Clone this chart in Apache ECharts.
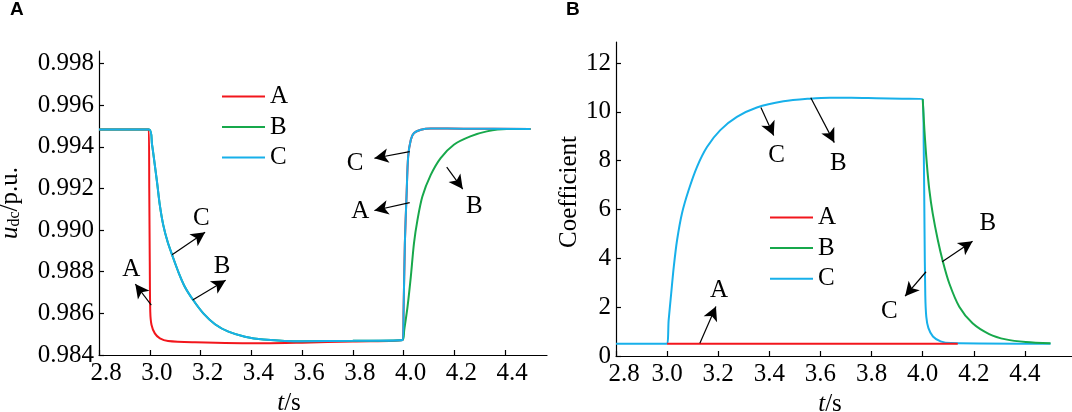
<!DOCTYPE html>
<html><head><meta charset="utf-8">
<script src="https://cdn.jsdelivr.net/npm/echarts@6/dist/echarts.min.js"></script>
<style>html,body{margin:0;padding:0;background:#fff}#c{width:1072px;height:412px}</style>
</head><body><div id="c"></div>
<script>
// ---------- data ----------
const seriesNames = ['A', 'B', 'C'];
const xTicks = [2.8, 3.0, 3.2, 3.4, 3.6, 3.8, 4.0, 4.2, 4.4];
const udcTicks = [0.984, 0.986, 0.988, 0.990, 0.992, 0.994, 0.996, 0.998];
const coefTicks = [0, 2, 4, 6, 8, 10, 12];

// Panel A: u_dc (p.u.) vs t (s)
const udcA = [[2.8,0.99483],[2.996,0.99483],[2.998,0.9920],[3.000,0.9885],[3.002,0.98608],[3.007,0.98544],[3.020,0.98504],[3.040,0.98480],[3.072,0.98467],[3.178,0.98461],[3.450,0.98456],[3.600,0.98459],[3.800,0.98465],[3.996,0.98472],[4.000,0.98616],[4.005,0.98937],[4.012,0.99177],[4.018,0.99353],[4.0285,0.99434],[4.041,0.99466],[4.068,0.99482],[4.107,0.99488],[4.237,0.99487],[4.500,0.99485]];
const udcB = [[2.8,0.99483],[2.998,0.99483],[3.009,0.99410],[3.0198,0.99313],[3.030,0.99217],[3.0395,0.99121],[3.053,0.99025],[3.070,0.98945],[3.088,0.98881],[3.112,0.98801],[3.138,0.98728],[3.171,0.98664],[3.211,0.98600],[3.257,0.98548],[3.310,0.98512],[3.375,0.98488],[3.448,0.98475],[3.600,0.98466],[3.800,0.98468],[3.996,0.98472],[4.0025,0.98520],[4.0156,0.98632],[4.0285,0.98776],[4.041,0.98937],[4.0547,0.99049],[4.074,0.99161],[4.107,0.99265],[4.146,0.99346],[4.198,0.99410],[4.263,0.99450],[4.328,0.99474],[4.406,0.99485],[4.500,0.99485]];
const udcC = [[2.8,0.99483],[2.998,0.99483],[3.009,0.99410],[3.0198,0.99313],[3.030,0.99217],[3.0395,0.99121],[3.053,0.99025],[3.070,0.98945],[3.088,0.98881],[3.112,0.98801],[3.138,0.98728],[3.171,0.98664],[3.211,0.98600],[3.257,0.98548],[3.310,0.98512],[3.375,0.98488],[3.448,0.98475],[3.600,0.98466],[3.800,0.98468],[3.996,0.98472],[4.000,0.98616],[4.005,0.98937],[4.012,0.99177],[4.018,0.99353],[4.0285,0.99434],[4.041,0.99466],[4.068,0.99482],[4.107,0.99488],[4.237,0.99487],[4.500,0.99485]];

// Panel B: Coefficient vs t (s)
const coefA = [[3.0,0.5],[4.137,0.5]];
const coefB = [[4.000,10.52],[4.0066,9.25],[4.016,7.88],[4.026,6.79],[4.039,5.84],[4.059,4.75],[4.079,3.86],[4.104,2.97],[4.143,2.02],[4.195,1.34],[4.260,0.90],[4.325,0.68],[4.403,0.57],[4.500,0.52]];
const coefC = [[2.8,0.5],[2.998,0.5],[3.006,1.47],[3.016,2.57],[3.026,3.65],[3.039,4.75],[3.058,5.84],[3.084,6.79],[3.117,7.75],[3.156,8.56],[3.208,9.25],[3.273,9.79],[3.351,10.18],[3.455,10.43],[3.559,10.54],[3.637,10.58],[3.720,10.58],[3.818,10.56],[3.920,10.54],[3.999,10.52],[4.004,8.50],[4.007,5.20],[4.010,2.50],[4.014,1.60],[4.022,1.15],[4.040,0.80],[4.070,0.60],[4.110,0.53],[4.500,0.5]];

// annotations (data coordinates): arrows [from, to], notes [text, t, value]
const udcArrows = [[[3.006,0.98640],[2.943,0.98741]],[[3.088,0.98881],[3.218,0.98989]],[[3.169,0.98664],[3.299,0.98759]],[[4.024,0.99377],[3.885,0.99345]],[[4.024,0.99132],[3.885,0.99094]],[[4.170,0.99302],[4.233,0.99197]]];
const udcNotes = [['A',2.927,0.98812],['C',3.203,0.99057],['B',3.285,0.98825],['C',3.809,0.99322],['A',3.829,0.99089],['B',4.279,0.99113]];
const coefArrows = [[[3.367,10.18],[3.417,9.03]],[[3.562,10.58],[3.654,8.74]],[[3.128,0.52],[3.191,2.03]],[[4.076,3.86],[4.195,4.70]],[[4.013,3.45],[3.931,2.45]]];
const coefNotes = [['C',3.428,8.22],['B',3.670,7.88],['A',3.203,2.70],['B',4.255,5.43],['C',3.869,1.81]];

// ---------- styles ----------
const SERIF = "'Liberation Serif','Times New Roman',serif";
const colors = {A:'#f2161c', B:'#17a84b', C:'#17b0ea'};
const FS = 25;

function arrowLine(arrows){
  return {
    silent:true, animation:false,
    symbol:['none','arrow'], symbolSize:[11,14],
    lineStyle:{color:'#000', width:1.2, type:'solid'},
    label:{show:false}, emphasis:{disabled:true},
    data: arrows.map(a => [{coord:a[0]},{coord:a[1]}])
  };
}
function notePoints(notes){
  return {
    silent:true, animation:false,
    symbol:'rect', symbolSize:1,
    itemStyle:{color:'rgba(0,0,0,0)'},
    label:{show:true, position:'inside', formatter:'{b}', color:'#000', fontFamily:SERIF, fontSize:FS},
    emphasis:{disabled:true},
    data: notes.map(n => ({name:n[0], coord:[n[1], n[2]]}))
  };
}
function lineSeries(name, data, xi, z, extra){
  return Object.assign({
    name, type:'line', data, xAxisIndex:xi, yAxisIndex:xi, z,
    symbol:'none', showSymbol:false, smooth:0.3, animation:false,
    lineStyle:{width:2, color:colors[name]}, itemStyle:{color:colors[name]},
    emphasis:{disabled:true}
  }, extra || {});
}
const axisBase = {
  axisLine:{show:true, onZero:false, lineStyle:{color:'#000', width:1.2}},
  axisTick:{show:true, inside:true, length:5, lineStyle:{color:'#000', width:1.2}},
  splitLine:{show:false}
};
const nameRich = {
  i:{fontFamily:SERIF, fontStyle:'italic', fontSize:FS, lineHeight:25, color:'#000'},
  n:{fontFamily:SERIF, fontSize:FS, lineHeight:25, color:'#000'},
  s:{fontFamily:SERIF, fontSize:16, lineHeight:16, verticalAlign:'bottom', color:'#000'},
  m:{fontFamily:SERIF, fontSize:FS, color:'#000', padding:[0,0,0,16]}
};
function xAxis(gi, max, labelExtra){
  return Object.assign({}, axisBase, {
    type:'value', gridIndex:gi, min:2.8, max,
    axisTick:Object.assign({}, axisBase.axisTick, {customValues:xTicks}),
    axisLabel:Object.assign({customValues:xTicks, color:'#000', fontFamily:SERIF, fontSize:FS, margin:6}, labelExtra),
    name:'{i|t}{n|/s}', nameLocation:'middle', nameGap:34,
    nameTextStyle:{rich:nameRich, padding:[0, gi===0?68:28, 0, 0]}
  });
}
const legendBase = {
  data:seriesNames, orient:'vertical', icon:'rect', itemWidth:43, itemHeight:2, selectedMode:false,
  textStyle:{fontFamily:SERIF, fontSize:FS, lineHeight:25, color:'#000'}
};

const option = {
  backgroundColor:'#fff',
  animation:false,
  title:[
    {text:'A', left:10, top:0, padding:0, textStyle:{fontFamily:"'Liberation Sans',Arial,sans-serif", fontWeight:'bold', fontSize:19, color:'#000'}},
    {text:'B', left:566, top:0, padding:0, textStyle:{fontFamily:"'Liberation Sans',Arial,sans-serif", fontWeight:'bold', fontSize:19, color:'#000'}}
  ],
  legend:[
    Object.assign({}, legendBase, {left:217, top:79, itemGap:5.5}),
    Object.assign({}, legendBase, {left:765, top:200, itemGap:5.6})
  ],
  grid:[
    {left:99, right:525, top:51, bottom:57, outerBoundsMode:'none'},
    {left:616, right:0, top:42, bottom:56, outerBoundsMode:'none'}
  ],
  xAxis:[
    xAxis(0, 4.565, {padding:[0,0,0,14], formatter:v => v.toFixed(1)}),
    xAxis(1, 4.584, {formatter:v => (Math.abs(v-2.8)<1e-6 ? '{m|2.8}' : v.toFixed(1)), rich:nameRich})
  ],
  yAxis:[
    Object.assign({}, axisBase, {
      type:'value', gridIndex:0, min:0.984, max:0.9986,
      axisTick:Object.assign({}, axisBase.axisTick, {customValues:udcTicks}),
      axisLabel:{customValues:udcTicks, color:'#000', fontFamily:SERIF, fontSize:FS, margin:5, formatter:v => v.toFixed(3)},
      name:'{i|u}{s|dc}{n|/p.u.}', nameLocation:'middle', nameRotate:90, nameGap:76,
      nameTextStyle:{rich:nameRich}
    }),
    Object.assign({}, axisBase, {
      type:'value', gridIndex:1, min:0, max:12.86,
      axisTick:Object.assign({}, axisBase.axisTick, {customValues:coefTicks}),
      axisLabel:{customValues:coefTicks, color:'#000', fontFamily:SERIF, fontSize:FS, margin:5, formatter:v => String(v)},
      name:'Coefficient', nameLocation:'middle', nameRotate:90, nameGap:27.5,
      nameTextStyle:{fontFamily:SERIF, fontSize:FS, color:'#000', padding:[0,0,0,14]}
    })
  ],
  series:[
    lineSeries('A', udcA, 0, 2),
    lineSeries('B', udcB, 0, 3),
    lineSeries('C', udcC, 0, 4, {markLine:arrowLine(udcArrows), markPoint:notePoints(udcNotes)}),
    lineSeries('C', coefC, 1, 2, {markLine:arrowLine(coefArrows), markPoint:notePoints(coefNotes)}),
    lineSeries('B', coefB, 1, 3),
    lineSeries('A', coefA, 1, 4)
  ]
};
const chart = echarts.init(document.getElementById('c'), null, {renderer:'canvas'});
chart.setOption(option);
</script></body></html>
